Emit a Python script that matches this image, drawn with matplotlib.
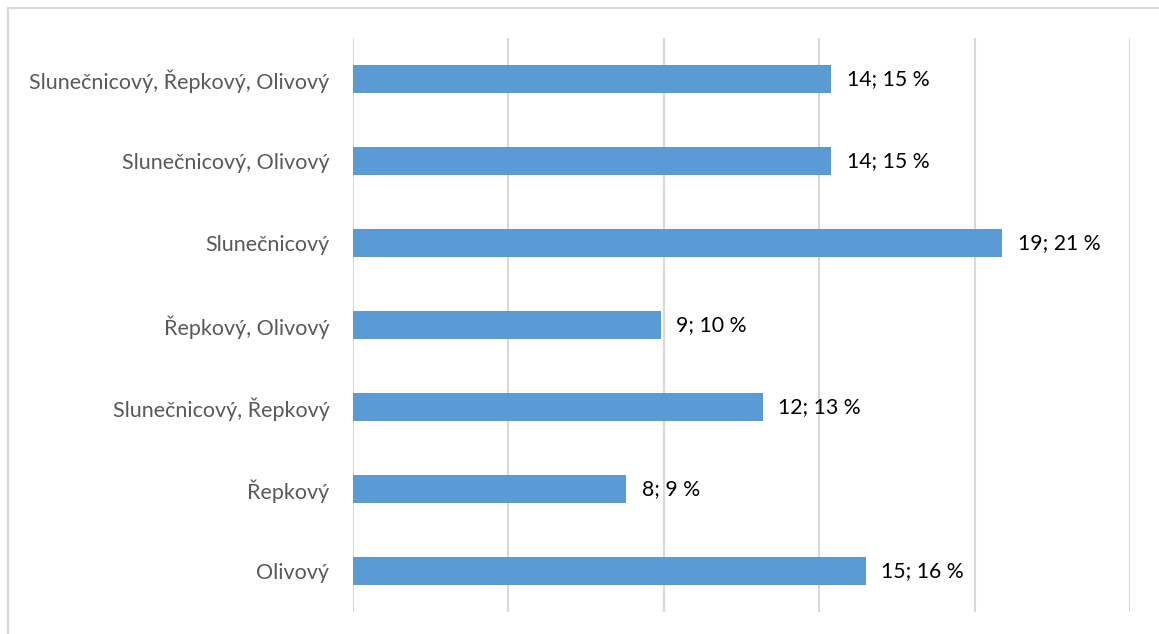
import matplotlib.pyplot as plt
import numpy as np
from matplotlib.lines import Line2D

plt.rcParams['font.family'] = ['Lato', 'DejaVu Sans']

categories = [
    "Olivový",
    "Řepkový",
    "Slunečnicový, Řepkový",
    "Řepkový, Olivový",
    "Slunečnicový",
    "Slunečnicový, Olivový",
    "Slunečnicový, Řepkový, Olivový",
]
counts = [15, 8, 12, 9, 19, 14, 14]
percents = [16, 9, 13, 10, 21, 15, 15]

x_max = 22.74

fig = plt.figure(figsize=(11.59, 6.34), dpi=100)
ax = fig.add_axes([0.3046, 0.0347, 0.975 - 0.3046, 0.940 - 0.0347])

y = np.arange(len(categories))
ax.barh(y, counts, height=0.35, color="#5B9BD5", zorder=3)

for yi, c, p in zip(y, counts, percents):
    ax.annotate(f"{c}; {p} %", xy=(c, yi), xytext=(11, 0), textcoords="offset points",
                ha="left", va="center", fontsize=15.3, color="black")

ax.set_xlim(0, x_max)
ax.set_ylim(-0.5, len(categories) - 0.5)
ax.set_xticks(np.linspace(0, x_max, 6))
ax.set_xticklabels([])
ax.set_yticks(y)
ax.set_yticklabels(categories, fontsize=15.5, color="#595959")
ax.tick_params(axis="both", length=0)
ax.tick_params(axis="y", pad=17)
ax.grid(axis="x", color="#D9D9D9", linewidth=1.5, zorder=0)
for s in ax.spines.values():
    s.set_visible(False)

# chart frame
fig.add_artist(Line2D([8 / 1159, 1.0], [1 - 8 / 634] * 2, color="#D9D9D9", lw=1.5))
fig.add_artist(Line2D([8 / 1159] * 2, [0, 1 - 8 / 634], color="#D9D9D9", lw=1.5))

fig.savefig("out.png", dpi=100)
plt.close(fig)
